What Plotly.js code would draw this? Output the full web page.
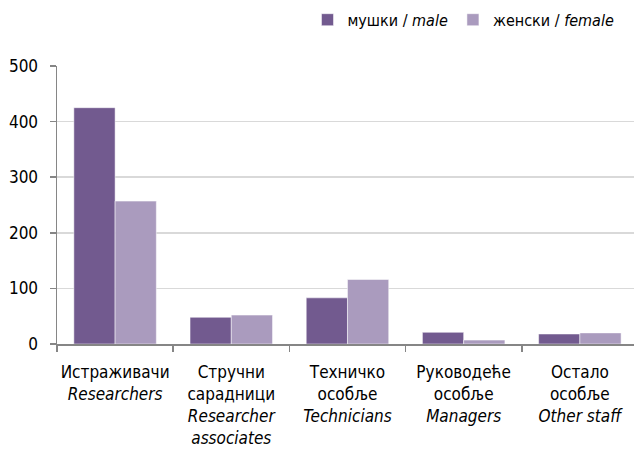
<!DOCTYPE html>
<html><head><meta charset="utf-8">
<script src="https://cdn.plot.ly/plotly-3.0.1.min.js"></script>
<style>body{margin:0}</style></head>
<body><div id="chart" style="width:634px;height:450px"></div>
<script>
const categories = [
  "Истраживачи<br><i>Researchers</i>",
  "Стручни<br>сарадници<br><i>Researcher</i><br><i>associates</i>",
  "Техничко<br>особље<br><i>Technicians</i>",
  "Руководеће<br>особље<br><i>Managers</i>",
  "Остало<br>особље<br><i>Other staff</i>"
];
const maleValues = [425, 48, 83, 21, 18];
const femaleValues = [257, 52, 116, 7, 20];
const maleName = "мушки / <i>male</i>";
const femaleName = "женски / <i>female</i>";
const yTicks = [0, 100, 200, 300, 400, 500];

const FONT = "DejaVu Sans Condensed, DejaVu Sans, sans-serif";
const data = [
  {type:"bar", x:categories, y:maleValues, name:maleName,
   marker:{color:"#725a8f", line:{color:"#ffffff", width:0.5}}},
  {type:"bar", x:categories, y:femaleValues, name:femaleName,
   marker:{color:"#aa9bbe", line:{color:"#ffffff", width:0.5}}}
];
const layout = {
  width:634, height:450,
  margin:{l:57, r:0, t:66, b:106, autoexpand:false},
  font:{family:FONT, size:16, color:"#000"},
  barmode:"group", bargap:0.29, bargroupgap:0,
  showlegend:true,
  legend:{orientation:"h", xref:"container", yref:"container",
    x:0.485, y:0.956, xanchor:"left", yanchor:"middle",
    font:{size:16}, bgcolor:"rgba(0,0,0,0)", itemwidth:30, tracegroupgap:0},
  xaxis:{type:"category", range:[-0.5, 4.466], tickson:"boundaries",
    ticks:"outside", ticklen:6, tickcolor:"#868686", tickwidth:1.5,
    showline:true, linecolor:"#868686", linewidth:1.5, tickangle:0,
    tickfont:{size:17}, ticklabelstandoff:12, fixedrange:true},
  yaxis:{range:[0,500], tickvals:yTicks, ticks:"outside", ticklen:6,
    tickcolor:"#868686", tickwidth:1.5, showline:true, linecolor:"#868686",
    linewidth:1.5, gridcolor:"#d9d9d9", gridwidth:1.5, zeroline:false,
    tickfont:{size:17}, ticklabelstandoff:8},
  plot_bgcolor:"#fff", paper_bgcolor:"#fff"
};
Plotly.newPlot("chart", data, layout, {displayModeBar:false, staticPlot:true});
</script></body></html>
